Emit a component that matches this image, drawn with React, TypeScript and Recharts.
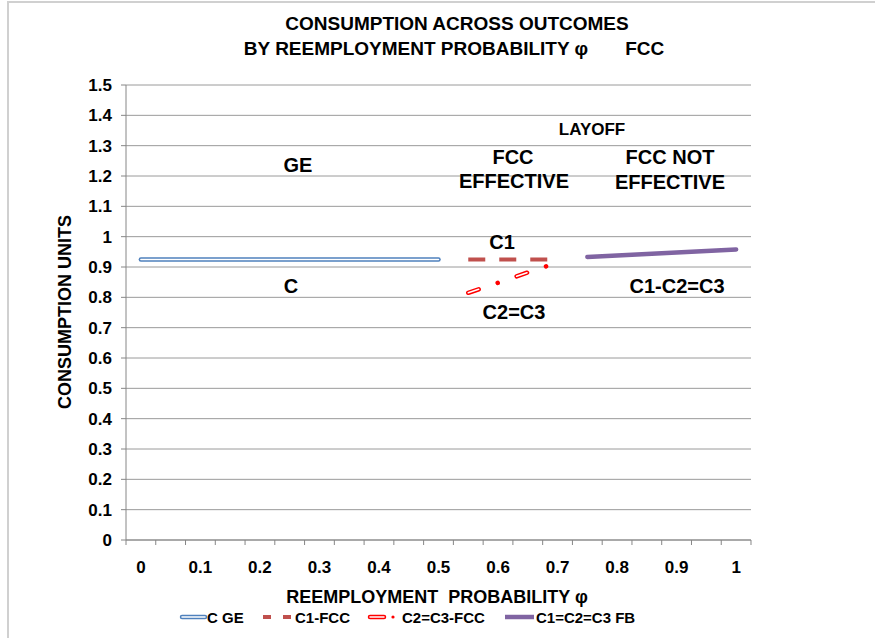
import React from 'react';
import { LineChart, Line, XAxis, YAxis, CartesianGrid } from 'recharts';

// reemployment probability (x) and consumption (y) per series
const phiGE = [0, 0.05, 0.1, 0.15, 0.2, 0.25, 0.3, 0.35, 0.4, 0.45, 0.5];
const cGE = [0.925, 0.925, 0.925, 0.925, 0.925, 0.925, 0.925, 0.925, 0.925, 0.925, 0.925];

const phiFCC = [0.55, 0.6, 0.65, 0.7];
const c1FCC = [0.925, 0.925, 0.925, 0.925];
const c23FCC = [0.815, 0.848, 0.882, 0.915];

const phiFB = [0.75, 0.8, 0.85, 0.9, 0.95, 1];
const cFB = [0.933, 0.938, 0.943, 0.948, 0.953, 0.958];

const xTicks = [0, 0.05, 0.1, 0.15, 0.2, 0.25, 0.3, 0.35, 0.4, 0.45, 0.5, 0.55, 0.6, 0.65, 0.7, 0.75, 0.8, 0.85, 0.9, 0.95, 1];
const yTicks = [0, 0.1, 0.2, 0.3, 0.4, 0.5, 0.6, 0.7, 0.8, 0.9, 1, 1.1, 1.2, 1.3, 1.4, 1.5];

const toPoints = (xs: number[], ys: number[]) => xs.map((x, i) => ({ x, y: ys[i] }));

const geData = toPoints(phiGE, cGE);
const c1Data = toPoints(phiFCC, c1FCC);
const c23Data = toPoints(phiFCC, c23FCC);
const fbData = toPoints(phiFB, cFB);

const FONT = '"Liberation Sans", Arial, sans-serif';
const AXIS = '#868686';
const HALF_CAT = 14.88;

const XTick = ({ x, y, payload, index }: any) => {
  const v = payload.value;
  const showLabel = Math.round(v * 100) % 10 === 0;
  const last = index === xTicks.length - 1;
  return (
    <g>
      <line x1={x - HALF_CAT} y1={y} x2={x - HALF_CAT} y2={y + 5} stroke={AXIS} />
      {last && <line x1={x + HALF_CAT} y1={y} x2={x + HALF_CAT} y2={y + 5} stroke={AXIS} />}
      {showLabel && (
        <text x={x} y={y + 33} textAnchor="middle" fontSize={17} fontWeight="bold" fontFamily={FONT} fill="#000">
          {String(v)}
        </text>
      )}
    </g>
  );
};

const txt = (x: number, y: number, size = 20): React.CSSProperties => ({
  position: 'absolute',
  left: x,
  top: y,
  transform: 'translate(-50%, -50%)',
  fontSize: size,
  fontWeight: 'bold',
  fontFamily: FONT,
  whiteSpace: 'pre',
  color: '#000',
  lineHeight: 1,
});

const Legend = () => (
  <div style={{ position: 'absolute', left: 0, top: 608, width: 875, height: 20, fontFamily: FONT, fontSize: 15, fontWeight: 'bold' }}>
    <svg width={875} height={20} style={{ position: 'absolute', left: 0, top: 0 }}>
      <line x1={182} y1={9} x2={205} y2={9} stroke="#4F81BD" strokeWidth={4.5} strokeLinecap="round" />
      <line x1={182} y1={9} x2={205} y2={9} stroke="#fff" strokeWidth={1.5} strokeLinecap="round" />
      <line x1={263} y1={9} x2={291} y2={9} stroke="#C0504D" strokeWidth={4} strokeDasharray="8 12" />
      <line x1={370} y1={9} x2={384} y2={9} stroke="#FF0000" strokeWidth={4.5} strokeLinecap="round" />
      <line x1={370} y1={9} x2={384} y2={9} stroke="#fff" strokeWidth={1.5} strokeLinecap="round" />
      <circle cx={393} cy={9} r={1.6} fill="#FF0000" />
      <line x1={505} y1={9} x2={534} y2={9} stroke="#8064A2" strokeWidth={4.5} />
    </svg>
    <span style={{ position: 'absolute', left: 207, top: 1 }}>C GE</span>
    <span style={{ position: 'absolute', left: 295, top: 1 }}>C1-FCC</span>
    <span style={{ position: 'absolute', left: 402, top: 1 }}>C2=C3-FCC</span>
    <span style={{ position: 'absolute', left: 536, top: 1 }}>C1=C2=C3 FB</span>
  </div>
);

export default function App() {
  return (
    <div style={{ position: 'relative', width: 875, height: 638, background: '#fff', overflow: 'hidden' }}>
      <style>{`body{margin:0}`}</style>
      <div style={{ position: 'absolute', left: 7, top: 1, width: 900, height: 700, borderTop: '2px solid #d0d0d0', borderLeft: '2px solid #d0d0d0' }} />
      <LineChart width={875} height={638} margin={{ top: 85, right: 124, bottom: 68, left: 66 }} style={{ position: 'absolute', left: 0, top: 0 }}>
        <CartesianGrid vertical={false} stroke="#9a9a9a" />
        <XAxis
          type="number"
          dataKey="x"
          domain={[-0.025, 1.025]}
          ticks={xTicks}
          interval={0}
          height={30}
          tickLine={false}
          tickSize={0}
          tickMargin={0}
          tick={<XTick />}
          stroke={AXIS}
        />
        <YAxis
          type="number"
          domain={[0, 1.5]}
          ticks={yTicks}
          interval={0}
          width={60}
          tickSize={5}
          tickMargin={9}
          stroke={AXIS}
          tick={{ fontSize: 17, fontWeight: 'bold', fill: '#000', fontFamily: FONT }}
          tickFormatter={(v: number) => String(v)}
        />
        <Line data={geData} dataKey="y" stroke="#4F81BD" strokeWidth={4.5} strokeLinecap="round" dot={false} isAnimationActive={false} />
        <Line data={geData} dataKey="y" stroke="#fff" strokeWidth={1.5} strokeLinecap="round" dot={false} isAnimationActive={false} />
        <Line data={c1Data} dataKey="y" stroke="#C0504D" strokeWidth={4} strokeDasharray="17 14" dot={false} isAnimationActive={false} />
        <Line data={c23Data} dataKey="y" stroke="#FF0000" strokeWidth={4.5} strokeLinecap="round" strokeDasharray="11 20 0.1 20" dot={false} isAnimationActive={false} />
        <Line data={c23Data} dataKey="y" stroke="#fff" strokeWidth={1.5} strokeLinecap="round" strokeDasharray="11 40.1" dot={false} isAnimationActive={false} />
        <Line data={fbData} dataKey="y" stroke="#8064A2" strokeWidth={4.5} strokeLinecap="round" dot={false} isAnimationActive={false} />
      </LineChart>

      <div style={txt(457, 23, 19)}>CONSUMPTION ACROSS OUTCOMES</div>
      <div style={txt(454, 48, 19)}>{'BY REEMPLOYMENT PROBABILITY φ       FCC'}</div>
      <div style={{ ...txt(65, 312, 18), transform: 'translate(-50%, -50%) rotate(-90deg)' }}>CONSUMPTION UNITS</div>
      <div style={txt(437, 597, 18)}>{'REEMPLOYMENT  PROBABILITY φ'}</div>

      <div style={txt(592, 129, 17)}>LAYOFF</div>
      <div style={txt(298, 165)}>GE</div>
      <div style={txt(513, 157)}>FCC</div>
      <div style={txt(514, 181)}>EFFECTIVE</div>
      <div style={txt(670, 157)}>FCC NOT</div>
      <div style={txt(670, 182)}>EFFECTIVE</div>
      <div style={txt(502, 242)}>C1</div>
      <div style={txt(291, 286)}>C</div>
      <div style={txt(677, 286)}>C1-C2=C3</div>
      <div style={txt(514, 312)}>C2=C3</div>

      <Legend />
    </div>
  );
}
